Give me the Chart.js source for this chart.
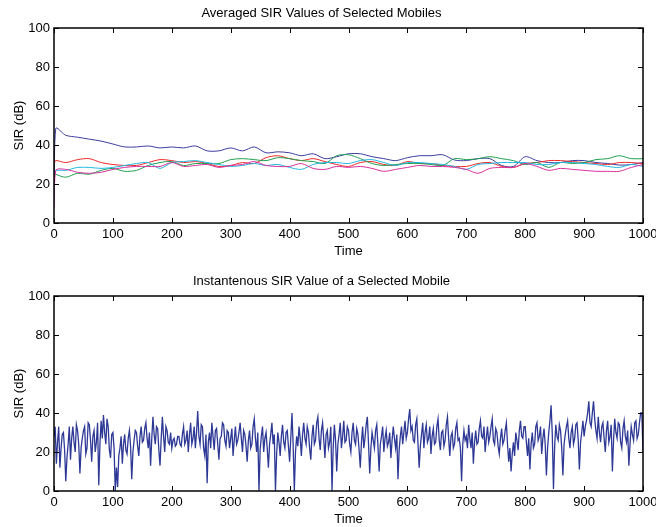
<!DOCTYPE html>
<html lang="en">
<head>
  <meta charset="UTF-8">
  <title>SIR Values</title>
  <script src="https://cdn.jsdelivr.net/npm/chart.js"></script>
  <style>
    body { margin: 0; background: #fff; }
    .box { position: absolute; left: 0; width: 656px; height: 259px; }
    #top { top: 0; }
    #bottom { top: 268px; }
  </style>
</head>
<body>
  <div class="box" id="top"><canvas id="avg"></canvas></div>
  <div class="box" id="bottom"><canvas id="inst"></canvas></div>

  <script>
    // averaged SIR, sampled every 20 time steps (plus the first jump)
    const avgTime = [0, 3, 20, 40, 60, 80, 100, 120, 140, 160, 180, 200, 220, 240, 260, 280, 300, 320, 340, 360, 380,
      400, 420, 440, 460, 480, 500, 520, 540, 560, 580, 600, 620, 640, 660, 680, 700, 720, 740, 760, 780,
      800, 820, 840, 860, 880, 900, 920, 940, 960, 980, 1000];
    const blueSIR = [15, 48.5, 45, 44, 43, 42, 40.5, 39, 39, 39.5, 38.5, 39, 38.5, 39.5, 37, 37, 38.5, 37, 39, 36, 36.5,
      36, 34.5, 35.5, 33, 34, 35.5, 35.5, 34, 33, 32, 33.5, 34.5, 34.5, 35, 32.3, 32, 33, 33, 29.5, 29,
      34, 32, 31, 31, 32, 32, 31, 30.5, 29.7, 30, 31];
    const redSIR = [30, 32, 31, 32.5, 33, 31, 30, 29.5, 29.5, 31, 32.5, 32, 31, 31.5, 30.5, 29, 29.5, 31, 30.5, 33.5, 34.5,
      33, 32, 33, 31.5, 30, 29, 31, 31.5, 30, 29.5, 31.5, 30.5, 30.5, 29.5, 29, 29, 30.5, 31, 29, 28.5,
      30.5, 31, 32, 32, 31.5, 31, 30.5, 30, 31, 31, 30.5];
    const greenSIR = [26, 25, 23.5, 25.5, 25, 27, 28, 26.5, 27, 29.5, 31, 31.5, 29.5, 30.5, 30.5, 30.5, 32.5, 33, 32.5, 32, 33.5,
      33, 32, 31.5, 30.5, 34.5, 35, 33, 30.5, 29.5, 30, 30.5, 30.5, 30, 29.5, 33, 32.5, 33, 34, 33, 32,
      30, 31, 28.5, 31, 30.5, 31, 32.5, 33, 34.5, 33, 33];
    const cyanSIR = [26, 27, 27, 28.5, 28.5, 28, 28.5, 29.5, 30.5, 31, 28, 31, 31.5, 32, 31, 30, 29, 29.5, 30.5, 29.5, 30,
      28.5, 27.5, 30, 31, 31, 30.5, 32, 32.5, 31, 29.5, 31, 31, 30.5, 30, 29, 27.5, 30, 30.5, 31, 31,
      31, 30, 30, 31, 31, 30.5, 30, 29, 28.5, 30, 29];
    const magentaSIR = [8, 27, 27.5, 26, 25.5, 26, 27.5, 28.5, 29, 29, 29, 31, 29, 29.5, 30, 28.5, 29.5, 30, 31.5, 29.5, 29,
      29, 30.5, 28, 27.5, 29, 28.5, 29, 28, 26.5, 27.5, 28.5, 29.5, 29, 29, 28.5, 27.5, 25.5, 28, 28.5, 28.5,
      30.5, 29, 27, 28, 27.5, 27, 26.5, 26.5, 26.5, 28.5, 30];

    // instantaneous SIR of one mobile, one value every 2 time steps (0..1000), one row per 100 steps
    const instStep = 2;
    const instSIR = [
      28, 33, 14, 25, 33, 12, 22, 29, 30, 21, 5, 17, 24, 33, 16, 27, 33, 25, 20, 34, 31, 24, 9, 22, 27, 31, 33, 19, 22, 35, 34, 26, 15, 28, 31, 20, 25, 35, 3, 24, 36, 27, 39, 30, 24, 37, 33, 21, 17, 29,
      30, 22, 0, 12, 2, 18, 22, 28, 14, 24, 29, 21, 19, 27, 31, 23, 6, 20, 26, 31, 30, 23, 18, 28, 33, 25, 26, 32, 35, 27, 22, 30, 13, 27, 38, 29, 24, 33, 32, 21, 13, 27, 38, 28, 20, 33, 31, 25, 24, 30,
      22, 26, 27, 23, 24, 28, 28, 24, 23, 29, 33, 24, 26, 31, 20, 29, 35, 24, 27, 33, 22, 30, 41, 28, 24, 34, 33, 22, 18, 29, 4, 25, 30, 22, 35, 28, 21, 31, 32, 24, 16, 27, 28, 35, 34, 26, 23, 31, 30, 22,
      27, 32, 18, 26, 33, 24, 26, 30, 35, 27, 20, 31, 29, 23, 15, 26, 31, 22, 24, 33, 37, 27, 20, 30, 0, 21, 28, 33, 20, 27, 30, 22, 12, 24, 29, 35, 24, 29, 0, 19, 30, 25, 18, 28, 34, 25, 22, 30, 31, 23,
      15, 27, 40, 24, 0, 20, 28, 23, 33, 27, 18, 29, 35, 27, 24, 33, 30, 22, 16, 28, 34, 24, 26, 35, 38, 27, 21, 31, 35, 26, 17, 29, 31, 22, 25, 33, 0, 22, 34, 26, 10, 24, 29, 35, 22, 28, 36, 25, 26, 33,
      31, 24, 20, 30, 35, 26, 24, 32, 29, 21, 12, 25, 33, 22, 27, 34, 38, 24, 9, 22, 30, 26, 22, 31, 34, 23, 10, 24, 28, 33, 20, 27, 31, 23, 25, 30, 17, 26, 33, 27, 22, 29, 6, 21, 28, 33, 24, 30, 36, 27,
      30, 37, 42, 31, 33, 26, 25, 34, 37, 24, 12, 23, 29, 35, 22, 30, 34, 25, 27, 33, 19, 28, 32, 24, 25, 33, 37, 26, 21, 30, 31, 23, 26, 34, 38, 27, 18, 28, 30, 22, 24, 32, 35, 26, 27, 22, 5, 24, 31, 26,
      28, 22, 34, 27, 22, 30, 14, 25, 31, 24, 25, 32, 36, 28, 27, 33, 20, 27, 33, 25, 28, 33, 37, 26, 24, 32, 30, 23, 19, 27, 32, 24, 26, 31, 35, 24, 15, 22, 10, 19, 25, 18, 30, 26, 21, 31, 36, 28, 27, 33,
      33, 25, 18, 27, 11, 24, 30, 22, 24, 33, 35, 26, 28, 33, 19, 27, 32, 24, 8, 22, 30, 36, 44, 29, 1, 23, 34, 28, 26, 34, 31, 22, 8, 24, 29, 33, 36, 27, 22, 30, 33, 24, 27, 34, 35, 26, 11, 25, 30, 36,
      28, 33, 36, 40, 46, 35, 33, 40, 46, 37, 31, 27, 38, 30, 25, 33, 35, 27, 20, 31, 36, 25, 28, 34, 10, 26, 37, 30, 27, 35, 34, 25, 22, 32, 36, 28, 25, 31, 13, 24, 33, 29, 26, 35, 36, 27, 29, 35, 40, 40,
      20
    ];

    const xTicks = [0, 100, 200, 300, 400, 500, 600, 700, 800, 900, 1000];
    const yTicks = [0, 20, 40, 60, 80, 100];

    Chart.defaults.font.family = "'Liberation Sans', Arial, sans-serif";
    Chart.defaults.color = '#000';

    // MATLAB style box with inward tick marks on all four sides
    const frame = {
      id: 'frame',
      afterDraw(chart) {
        const { ctx, chartArea: a, scales: { x, y } } = chart;
        ctx.save();
        ctx.strokeStyle = '#000';
        ctx.lineWidth = 1.5;
        ctx.strokeRect(a.left, a.top, a.right - a.left, a.bottom - a.top);
        ctx.lineWidth = 1;
        ctx.beginPath();
        xTicks.forEach(v => {
          const px = Math.round(x.getPixelForValue(v)) + 0.5;
          ctx.moveTo(px, a.bottom); ctx.lineTo(px, a.bottom - 5);
          ctx.moveTo(px, a.top); ctx.lineTo(px, a.top + 5);
        });
        yTicks.forEach(v => {
          const py = Math.round(y.getPixelForValue(v)) + 0.5;
          ctx.moveTo(a.left, py); ctx.lineTo(a.left + 5, py);
          ctx.moveTo(a.right, py); ctx.lineTo(a.right - 5, py);
        });
        ctx.stroke();
        ctx.restore();
      }
    };

    function options(title) {
      return {
        responsive: true,
        maintainAspectRatio: false,
        animation: false,
        layout: { padding: { left: 0, right: 13, top: 0, bottom: 0 } },
        plugins: {
          legend: { display: false },
          tooltip: { enabled: false },
          title: {
            display: true, text: title, color: '#000',
            font: { size: 13, weight: 'normal' },
            padding: { top: 6, bottom: 6.4 }
          }
        },
        scales: {
          x: {
            type: 'linear', min: 0, max: 1000,
            afterBuildTicks: s => { s.ticks = xTicks.map(v => ({ value: v })); },
            afterFit: s => { s.paddingLeft = 0; s.paddingRight = 0; s.height = 36; },
            grid: { display: false, drawTicks: false },
            border: { display: false },
            ticks: { font: { size: 13 }, padding: 4, maxRotation: 0, callback: v => String(v) },
            title: { display: true, text: 'Time', font: { size: 13 }, padding: { top: 0, bottom: 0 } }
          },
          y: {
            min: 0, max: 100,
            afterBuildTicks: s => { s.ticks = yTicks.map(v => ({ value: v })); },
            afterFit: s => { s.width = 54; s.paddingTop = 0; s.paddingBottom = 0; },
            grid: { display: false, drawTicks: false },
            border: { display: false },
            ticks: { font: { size: 13 }, padding: 4, callback: v => String(v) },
            title: { display: true, text: 'SIR (dB)', font: { size: 13 }, padding: { top: 12, bottom: 10 } }
          }
        }
      };
    }

    const line = (label, xs, ys, color) => ({
      label,
      data: ys.map((v, i) => ({ x: xs[i], y: v })),
      borderColor: color,
      borderWidth: 1,
      pointRadius: 0,
      tension: 0.3,
      fill: false
    });

    new Chart(document.getElementById('avg'), {
      type: 'line',
      data: {
        datasets: [
          line('Mobile 5', avgTime, magentaSIR, '#d8309c'),
          line('Mobile 4', avgTime, cyanSIR, '#22b8e0'),
          line('Mobile 3', avgTime, greenSIR, '#1fa050'),
          line('Mobile 2', avgTime, redSIR, '#f02828'),
          line('Mobile 1', avgTime, blueSIR, '#3c3ca0')
        ]
      },
      options: options('Averaged SIR Values of Selected Mobiles'),
      plugins: [frame]
    });

    new Chart(document.getElementById('inst'), {
      type: 'line',
      data: {
        datasets: [{
          label: 'SIR',
          data: instSIR.map((v, i) => ({ x: i * instStep, y: v })),
          borderColor: '#2e3996',
          borderWidth: 1.3,
          pointRadius: 0,
          tension: 0,
          fill: false
        }]
      },
      options: options('Instantenous SIR Value of a Selected Mobile'),
      plugins: [frame]
    });
  </script>
</body>
</html>
